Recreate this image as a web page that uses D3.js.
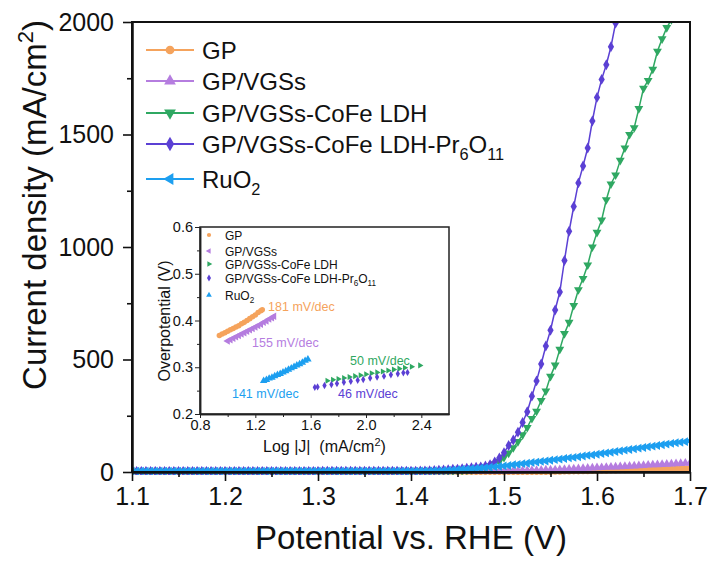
<!DOCTYPE html>
<html>
<head>
<meta charset="utf-8">
<script src="https://cdn.jsdelivr.net/npm/d3@7"></script>
<style>
  body { margin: 0; background: #fff; }
  svg text { font-family: Arial, "Liberation Sans", Helvetica, sans-serif; fill: #111; }
</style>
</head>
<body>
<svg id="chart" width="711" height="565"></svg>
<script>
// ---- data ----
var seriesNames = ["GP", "GP/VGSs", "GP/VGSs-CoFe LDH", "GP/VGSs-CoFe LDH-Pr6O11", "RuO2"]
var seriesColors = ["#f5a35c", "#b57ddf", "#2fa862", "#5b40d4", "#1d9ff0"]

// LSV potential grid (V vs RHE)
var potential = [
  1.100, 1.105, 1.110, 1.115, 1.120, 1.125, 1.130, 1.135, 1.140, 1.145,
  1.150, 1.155, 1.160, 1.165, 1.170, 1.175, 1.180, 1.185, 1.190, 1.195,
  1.200, 1.205, 1.210, 1.215, 1.220, 1.225, 1.230, 1.235, 1.240, 1.245,
  1.250, 1.255, 1.260, 1.265, 1.270, 1.275, 1.280, 1.285, 1.290, 1.295,
  1.300, 1.305, 1.310, 1.315, 1.320, 1.325, 1.330, 1.335, 1.340, 1.345,
  1.350, 1.355, 1.360, 1.365, 1.370, 1.375, 1.380, 1.385, 1.390, 1.395,
  1.400, 1.405, 1.410, 1.415, 1.420, 1.425, 1.430, 1.435, 1.440, 1.445,
  1.450, 1.455, 1.460, 1.465, 1.470, 1.475, 1.480, 1.485, 1.490, 1.495,
  1.500, 1.505, 1.510, 1.515, 1.520, 1.525, 1.530, 1.535, 1.540, 1.545,
  1.550, 1.555, 1.560, 1.565, 1.570, 1.575, 1.580, 1.585, 1.590, 1.595,
  1.600, 1.605, 1.610, 1.615, 1.620, 1.625, 1.630, 1.635, 1.640, 1.645,
  1.650, 1.655, 1.660, 1.665, 1.670, 1.675, 1.680, 1.685, 1.690, 1.695,
  1.700
]

// current density (mA/cm2) at each potential
var jGP = [
  1, 1, 1, 1, 1, 1, 1, 1, 1, 1,
  1, 1, 1, 1, 1, 1, 1, 1, 1, 1,
  1, 1, 1, 1, 1, 1, 1, 1, 1, 1,
  1, 1, 1, 1, 1, 1, 1, 1, 1, 1,
  1, 1, 1, 1, 1, 1, 1, 1, 1, 1,
  1, 1, 1, 1, 1, 1, 1, 1, 1, 1,
  1, 1, 1, 1, 1, 1, 1, 1, 1, 1,
  1, 1, 1, 1, 1, 1, 1, 1, 1, 1,
  1, 1, 1, 1, 1, 1, 1, 1, 1, 1,
  1, 2, 2, 3, 3, 4, 4, 5, 5, 6,
  6, 7, 7, 8, 8, 9, 9, 10, 10, 11,
  11, 12, 12, 12, 13, 13, 13, 14, 14, 14,
  15
]
var jVGS = [
  2, 2, 2, 2, 2, 2, 2, 2, 2, 2,
  2, 2, 2, 2, 2, 2, 2, 2, 2, 2,
  2, 2, 2, 2, 2, 2, 2, 2, 2, 2,
  2, 2, 2, 2, 2, 2, 2, 2, 2, 2,
  2, 2, 2, 2, 2, 2, 2, 2, 2, 2,
  2, 2, 2, 2, 2, 2, 2, 2, 2, 2,
  2, 2, 2, 2, 2, 2, 2, 2, 2, 2,
  2, 2, 2, 2, 2, 2, 2, 3, 3, 3,
  4, 4, 5, 5, 6, 6, 7, 7, 8, 9,
  9, 10, 11, 12, 13, 14, 15, 16, 17, 18,
  19, 20, 21, 22, 23, 24, 25, 26, 27, 28,
  29, 31, 32, 33, 34, 35, 36, 37, 38, 39,
  40
]
var jLDH = [
  3, 3, 3, 3, 3, 3, 3, 3, 3, 3,
  3, 3, 3, 3, 3, 3, 3, 3, 3, 3,
  3, 3, 3, 3, 3, 3, 3, 3, 3, 3,
  3, 3, 3, 3, 3, 3, 3, 3, 3, 3,
  3, 3, 3, 3, 3, 3, 3, 3, 3, 3,
  3, 3, 3, 3, 3, 3, 3, 3, 3, 3,
  3, 4, 4, 4, 4, 4, 4, 4, 4, 5,
  6, 7, 9, 11, 14, 17, 21, 27, 36, 48,
  65, 84, 108, 135, 165, 198, 238, 270, 318, 360,
  425, 475, 545, 615, 665, 740, 810, 860, 920, 1000,
  1065, 1120, 1210, 1280, 1320, 1385, 1440, 1500, 1530, 1615,
  1705, 1740, 1790, 1870, 1925, 1975, 2010, 2080
]
var jPr = [
  3, 3, 3, 3, 3, 3, 3, 3, 3, 3,
  3, 3, 3, 3, 3, 3, 3, 3, 3, 3,
  3, 3, 3, 3, 3, 3, 3, 3, 3, 3,
  3, 3, 3, 3, 3, 3, 3, 3, 3, 3,
  3, 4, 4, 4, 4, 4, 4, 4, 4, 4,
  4, 4, 4, 4, 4, 4, 4, 4, 4, 4,
  4, 4, 5, 5, 6, 7, 8, 9, 10, 12,
  13, 15, 17, 19, 21, 23, 27, 33, 45, 62,
  86, 118, 142, 177, 220, 268, 337, 405, 480, 560,
  630, 720, 800, 940, 1070, 1180, 1285, 1360, 1440, 1560,
  1665, 1745, 1810, 1890, 1995, 2090, 2180
]
var jRuO2 = [
  4, 4, 4, 4, 4, 4, 4, 4, 4, 4,
  4, 4, 4, 4, 4, 4, 4, 4, 4, 4,
  4, 4, 4, 4, 4, 4, 4, 4, 4, 4,
  4, 4, 4, 4, 4, 4, 4, 4, 4, 4,
  4, 4, 4, 4, 4, 4, 4, 4, 4, 4,
  4, 4, 4, 4, 4, 4, 4, 4, 4, 4,
  4, 4, 5, 5, 5, 6, 6, 7, 8, 9,
  10, 12, 13, 15, 16, 18, 19, 21, 23, 25,
  27, 29, 32, 34, 37, 39, 42, 44, 47, 49,
  52, 55, 57, 60, 63, 65, 68, 71, 74, 76,
  79, 82, 85, 88, 91, 94, 97, 100, 103, 106,
  109, 112, 115, 118, 121, 124, 127, 130, 132, 135,
  138
]

// Tafel inset: [log|J|, overpotential V]
var tafelGP = [[0.94,0.368],[0.96,0.371],[0.98,0.374],[1.00,0.377],[1.02,0.380],[1.04,0.383],[1.06,0.386],[1.08,0.389],[1.10,0.393],[1.12,0.396],[1.14,0.400],[1.16,0.404],[1.18,0.408],[1.20,0.412],[1.22,0.417],[1.24,0.421],[1.25,0.423]]
var tafelVGS = [[1.00,0.356],[1.02,0.359],[1.04,0.362],[1.06,0.365],[1.08,0.368],[1.10,0.371],[1.12,0.374],[1.14,0.377],[1.16,0.380],[1.18,0.383],[1.20,0.386],[1.22,0.389],[1.24,0.392],[1.26,0.396],[1.28,0.399],[1.30,0.403],[1.32,0.406],[1.335,0.409]]
var tafelLDH = [[1.72,0.271],[1.76,0.273],[1.80,0.275],[1.84,0.277],[1.88,0.279],[1.92,0.281],[1.96,0.283],[2.00,0.285],[2.04,0.287],[2.08,0.289],[2.12,0.291],[2.16,0.293],[2.20,0.295],[2.24,0.297],[2.28,0.299],[2.33,0.301],[2.39,0.304]]
var tafelPr = [[1.63,0.257],[1.65,0.258],[1.70,0.261],[1.75,0.263],[1.79,0.265],[1.84,0.268],[1.89,0.270],[1.94,0.272],[1.98,0.274],[2.03,0.277],[2.08,0.279],[2.13,0.281],[2.18,0.284],[2.23,0.286],[2.27,0.288],[2.30,0.289]]
var tafelRuO2 = [[1.26,0.271],[1.28,0.273],[1.30,0.276],[1.32,0.278],[1.34,0.281],[1.36,0.284],[1.38,0.286],[1.40,0.289],[1.42,0.292],[1.44,0.295],[1.46,0.298],[1.48,0.301],[1.50,0.304],[1.52,0.307],[1.54,0.310],[1.56,0.314],[1.58,0.317]]
var tafelSlopes = ["181 mV/dec", "155 mV/dec", "50 mV/dec", "46 mV/dec", "141 mV/dec"]

var xTicks = [1.1, 1.2, 1.3, 1.4, 1.5, 1.6, 1.7]
var yTicks = [0, 500, 1000, 1500, 2000]
var insetXTicks = [0.8, 1.2, 1.6, 2.0, 2.4]
var insetYTicks = [0.2, 0.3, 0.4, 0.5, 0.6]

// ---- drawing ----
var svg = d3.select("#chart")
var FONT = 25

var x = d3.scaleLinear().domain([1.1, 1.7]).range([132, 690])
var y = d3.scaleLinear().domain([0, 2000]).range([472, 22])

// digits after letters -> subscript
function addRich(t, str, fs) {
  var parts = str.split(/(\d+)/).filter(function (s) { return s.length })
  var shift = 0
  parts.forEach(function (p, k) {
    var isNum = /^\d+$/.test(p) && k > 0
    var target = isNum ? fs * 0.3 : 0
    var ts = t.append("tspan").attr("dy", target - shift).text(p)
    if (isNum) ts.attr("font-size", fs * 0.68)
    shift = target
  })
}

function symbolPath(kind, size) {
  var type = kind == "circle" ? d3.symbolCircle : kind == "diamond" ? d3.symbolDiamond : d3.symbolTriangle
  return d3.symbol().type(type).size(size)()
}
function symbolRot(kind) {
  if (kind == "down") return 180
  if (kind == "left") return -90
  if (kind == "right") return 90
  return 0
}

var mainSymbols = ["circle", "up", "down", "diamond", "left"]
var insetSymbols = ["circle", "left", "right", "diamond", "up"]
var lsv = [jGP, jVGS, jLDH, jPr, jRuO2]

svg.append("clipPath").attr("id", "clip")
  .append("rect").attr("x", 132).attr("y", 22).attr("width", 558).attr("height", 453)

var plot = svg.append("g").attr("clip-path", "url(#clip)")

for (let s = 0; s < lsv.length; s++) {
  var pts = lsv[s].map(function (v, i) { return [potential[i], v] })
  var line = d3.line().x(function (d) { return x(d[0]) }).y(function (d) { return y(d[1]) })
  plot.append("path").datum(pts)
    .attr("d", line)
    .style("fill", "none")
    .style("stroke", seriesColors[s])
    .style("stroke-width", 1.5)
  plot.append("g").selectAll("path")
    .data(pts)
    .enter()
    .append("path")
    .attr("d", symbolPath(mainSymbols[s], 34))
    .attr("transform", function (d) { return "translate(" + x(d[0]) + "," + y(d[1]) + ") rotate(" + symbolRot(mainSymbols[s]) + ")" })
    .style("fill", seriesColors[s])
}

// frame
svg.append("rect").attr("x", 132).attr("y", 22).attr("width", 558).attr("height", 450)
  .style("fill", "none").style("stroke", "#111").style("stroke-width", 2)

// axes
var xAxis = svg.append("g").attr("transform", "translate(0,472)")
  .call(d3.axisBottom(x).tickValues(xTicks).tickFormat(d3.format(".1f")).tickSize(9).tickSizeOuter(0).tickPadding(6))
var xMinor = svg.append("g").attr("transform", "translate(0,472)")
  .call(d3.axisBottom(x).tickValues([1.15, 1.25, 1.35, 1.45, 1.55, 1.65]).tickFormat("").tickSize(5).tickSizeOuter(0))
var yAxis = svg.append("g").attr("transform", "translate(132,0)")
  .call(d3.axisLeft(y).tickValues(yTicks).tickFormat(d3.format("d")).tickSize(9).tickSizeOuter(0).tickPadding(9))
var yMinor = svg.append("g").attr("transform", "translate(132,0)")
  .call(d3.axisLeft(y).tickValues([250, 750, 1250, 1750]).tickFormat("").tickSize(5).tickSizeOuter(0))

;[xAxis, xMinor, yAxis, yMinor].forEach(function (a) {
  a.select(".domain").style("stroke", "#111").style("stroke-width", 2)
  a.selectAll(".tick line").style("stroke", "#111").style("stroke-width", 1.6)
  a.selectAll(".tick text").style("font-size", FONT + "px").style("fill", "#111")
    .style("font-family", "Arial, 'Liberation Sans', sans-serif")
})

// axis titles
svg.append("text").attr("x", 411).attr("y", 549).attr("text-anchor", "middle")
  .style("font-size", "33px").text("Potential vs. RHE (V)")

var yt = svg.append("text").attr("text-anchor", "middle")
  .attr("transform", "translate(46,205) rotate(-90)")
  .style("font-size", "33px")
yt.append("tspan").text("Current density (mA/cm")
yt.append("tspan").attr("dy", -13).style("font-size", "22px").text("2")
yt.append("tspan").attr("dy", 13).text(")")

// legend
var legRows = [50, 81, 113, 144, 179]
for (let s = 0; s < seriesNames.length; s++) {
  var ly = legRows[s]
  svg.append("line").attr("x1", 146).attr("x2", 194).attr("y1", ly).attr("y2", ly)
    .style("stroke", seriesColors[s]).style("stroke-width", 1.8)
  svg.append("path").attr("d", symbolPath(mainSymbols[s], 60))
    .attr("transform", "translate(170," + ly + ") rotate(" + symbolRot(mainSymbols[s]) + ")")
    .style("fill", seriesColors[s])
  var lt = svg.append("text").attr("x", 202).attr("y", ly + 8.5).style("font-size", "24px")
  addRich(lt, seriesNames[s], 24)
}

// ---- inset Tafel plot ----
var xi = d3.scaleLinear().domain([0.8, 2.6]).range([200, 449])
var yi = d3.scaleLinear().domain([0.2, 0.6]).range([414, 227])
var tafel = [tafelGP, tafelVGS, tafelLDH, tafelPr, tafelRuO2]

svg.append("rect").attr("x", 200).attr("y", 227).attr("width", 249).attr("height", 187)
  .style("fill", "#fff").style("stroke", "#222").style("stroke-width", 1.5)

var ixAxis = svg.append("g").attr("transform", "translate(0,414)")
  .call(d3.axisBottom(xi).tickValues(insetXTicks).tickFormat(d3.format(".1f")).tickSize(4).tickSizeOuter(0).tickPadding(2))
var ixMinor = svg.append("g").attr("transform", "translate(0,414)")
  .call(d3.axisBottom(xi).tickValues([1.0, 1.4, 1.8, 2.2]).tickFormat("").tickSize(3).tickSizeOuter(0))
var iyAxis = svg.append("g").attr("transform", "translate(200,0)")
  .call(d3.axisLeft(yi).tickValues(insetYTicks).tickFormat(d3.format(".1f")).tickSize(5).tickSizeOuter(0).tickPadding(2))
var iyMinor = svg.append("g").attr("transform", "translate(200,0)")
  .call(d3.axisLeft(yi).tickValues([0.25, 0.35, 0.45, 0.55]).tickFormat("").tickSize(3).tickSizeOuter(0))

;[ixAxis, ixMinor, iyAxis, iyMinor].forEach(function (a) {
  a.select(".domain").style("stroke", "#222").style("stroke-width", 1.5)
  a.selectAll(".tick line").style("stroke", "#222").style("stroke-width", 1)
  a.selectAll(".tick text").style("font-size", "14.5px").style("fill", "#111")
    .style("font-family", "Arial, 'Liberation Sans', sans-serif")
})

var ixt = svg.append("text").attr("x", 263).attr("y", 452).style("font-size", "16px").style("white-space", "pre")
ixt.append("tspan").text("Log |J|  (mA/cm")
ixt.append("tspan").attr("dy", -6).style("font-size", "11px").text("2")
ixt.append("tspan").attr("dy", 6).text(")")

svg.append("text").attr("text-anchor", "middle")
  .attr("transform", "translate(170,321) rotate(-90)")
  .style("font-size", "16px").text("Overpotential (V)")

for (let s = 0; s < tafel.length; s++) {
  svg.append("g").selectAll("path")
    .data(tafel[s])
    .enter()
    .append("path")
    .attr("d", symbolPath(insetSymbols[s], s == 2 || s == 3 ? 16 : 24))
    .attr("transform", function (d) { return "translate(" + xi(d[0]) + "," + yi(d[1]) + ") rotate(" + symbolRot(insetSymbols[s]) + ")" })
    .style("fill", seriesColors[s])
}

// inset legend
var iLegRows = [235, 251, 264, 278, 295]
for (let s = 0; s < seriesNames.length; s++) {
  svg.append("path").attr("d", symbolPath(insetSymbols[s], 14))
    .attr("transform", "translate(209," + iLegRows[s] + ") rotate(" + symbolRot(insetSymbols[s]) + ")")
    .style("fill", seriesColors[s])
  var it = svg.append("text").attr("x", 225).attr("y", iLegRows[s] + 4.5).style("font-size", "12px")
  addRich(it, seriesNames[s], 12)
}

// slope annotations (anchored in inset data units)
var slopeAnchors = [[1.292, 0.420], [1.176, 0.343], [1.885, 0.305], [1.798, 0.234], [1.031, 0.234]]
for (let s = 0; s < tafelSlopes.length; s++) {
  svg.append("text")
    .attr("x", xi(slopeAnchors[s][0])).attr("y", yi(slopeAnchors[s][1]))
    .style("font-size", "12.5px").style("fill", seriesColors[s])
    .text(tafelSlopes[s])
}
</script>
</body>
</html>
